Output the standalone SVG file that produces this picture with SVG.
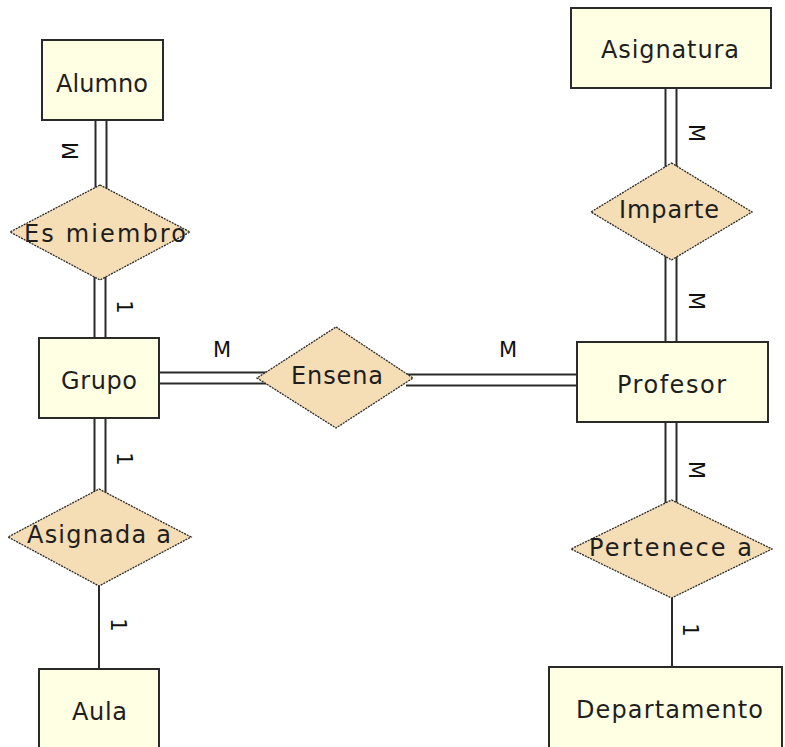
<svg xmlns="http://www.w3.org/2000/svg" width="785" height="747" viewBox="0 0 785 747">
<style>
.ent{fill:#FFFFE3;stroke:#2a2a2a;stroke-width:2}
.rel{fill:#F5DDB5;stroke:#2a2a2a;stroke-width:1.3;stroke-dasharray:2 1}
.ln{stroke:#2a2a2a;stroke-width:2;fill:none}
.t{font-family:"DejaVu Sans","Liberation Sans",sans-serif;font-size:24px;fill:#1e1e1e;text-anchor:middle}
.c{font-family:"DejaVu Sans","Liberation Sans",sans-serif;font-size:21px;fill:#111;text-anchor:middle}
</style>
<rect width="785" height="747" fill="#ffffff"/>
<g id="connectors">
  <path class="ln" d="M95.5 120V192M106.5 120V192"/>
  <path class="ln" d="M94.5 272V338M105.5 272V338"/>
  <path class="ln" d="M94.5 418V494M105.5 418V494"/>
  <path class="ln" d="M99 580V669"/>
  <path class="ln" d="M665.5 88V170M676.5 88V170"/>
  <path class="ln" d="M665.5 252V342M676.5 252V342"/>
  <path class="ln" d="M665.5 422V507M676.5 422V507"/>
  <path class="ln" d="M672 592V667"/>
  <path class="ln" d="M159 372.5H270M159 383.5H270"/>
  <path class="ln" d="M406 374.5H577M406 385.5H577"/>
  <text class="c" transform="translate(70,151) rotate(-90)" y="7.6">M</text>
  <text class="c" transform="translate(125,307) rotate(90)" y="7.6">1</text>
  <text class="c" transform="translate(125,459) rotate(90)" y="7.6">1</text>
  <text class="c" transform="translate(119,625) rotate(90)" y="7.6">1</text>
  <text class="c" transform="translate(697,133) rotate(90)" y="7.6">M</text>
  <text class="c" transform="translate(697,301) rotate(90)" y="7.6">M</text>
  <text class="c" transform="translate(697,470) rotate(90)" y="7.6">M</text>
  <text class="c" transform="translate(691,630) rotate(90)" y="7.6">1</text>
  <text class="c" x="222" y="357">M</text>
  <text class="c" x="508" y="357">M</text>
</g>
<g id="alumno"><rect class="ent" x="42" y="40" width="121" height="80"/><text class="t" x="102" y="92" textLength="92" lengthAdjust="spacing">Alumno</text></g>
<g id="grupo"><rect class="ent" x="39" y="338" width="120" height="80"/><text class="t" x="99" y="389" textLength="76" lengthAdjust="spacing">Grupo</text></g>
<g id="aula"><rect class="ent" x="39" y="669" width="120" height="82"/><text class="t" x="99.5" y="720" textLength="55" lengthAdjust="spacing">Aula</text></g>
<g id="asignatura"><rect class="ent" x="571" y="8" width="200" height="80"/><text class="t" x="670" y="58" textLength="138" lengthAdjust="spacing">Asignatura</text></g>
<g id="profesor"><rect class="ent" x="577" y="342" width="191" height="80"/><text class="t" x="671.5" y="393" textLength="109" lengthAdjust="spacing">Profesor</text></g>
<g id="departamento"><rect class="ent" x="549" y="667" width="233" height="84"/><text class="t" x="669.5" y="718" textLength="187" lengthAdjust="spacing">Departamento</text></g>
<g id="es-miembro"><polygon class="rel" points="100,185 190,232 100,280 10,232"/><text class="t" x="105" y="242" textLength="162" lengthAdjust="spacing">Es miembro</text></g>
<g id="asignada-a"><polygon class="rel" points="99,489 191,537 99,586 8,537"/><text class="t" x="99" y="543" textLength="144" lengthAdjust="spacing">Asignada a</text></g>
<g id="ensena"><polygon class="rel" points="336,327 413,378 336,428 257,378"/><text class="t" x="337" y="384" textLength="92" lengthAdjust="spacing">Ensena</text></g>
<g id="imparte"><polygon class="rel" points="671.5,163 752,212 671.5,260 591,212"/><text class="t" x="669" y="218" textLength="100" lengthAdjust="spacing">Imparte</text></g>
<g id="pertenece-a"><polygon class="rel" points="671.5,500 772,549 671.5,598 571,549"/><text class="t" x="670.5" y="556" textLength="163" lengthAdjust="spacing">Pertenece a</text></g>
</svg>
